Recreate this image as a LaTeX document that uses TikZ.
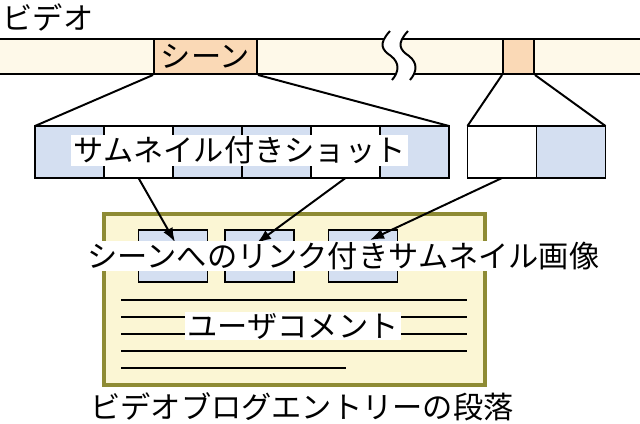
\documentclass[tikz,border=0pt]{standalone}
\usepackage{fontspec}
\setmainfont{Noto Sans CJK JP}
\usetikzlibrary{arrows.meta}

\definecolor{barcream}{RGB}{254,249,233}
\definecolor{scenepeach}{RGB}{250,217,182}
\definecolor{shotblue}{RGB}{212,223,241}
\definecolor{blogyellow}{RGB}{251,246,212}
\definecolor{blogolive}{RGB}{142,139,52}

\begin{document}
\begin{tikzpicture}[x=0.025cm, y=-0.025cm, line width=1.4pt,
    font=\fontsize{21.5pt}{24pt}\selectfont,
    cell/.style={draw, rectangle, inner sep=0pt, outer sep=0pt,
        minimum width=1.725cm, minimum height=1.3cm},
    whitetag/.style={fill=white, inner xsep=2pt, inner ysep=1pt},
    linkarrow/.style={-{Latex[length=10pt,width=7.5pt]}}]
    \useasboundingbox (0,0) rectangle (640,423);

    % video bar
    \fill[barcream] (0,39) rectangle (640,74);
    \draw (0,39) -- (640,39);
    \draw (0,74) -- (640,74);
    \node (videolabel) at (48,17) {ビデオ};
    \node[draw, fill=scenepeach, inner sep=0pt, minimum width=2.575cm,
        minimum height=0.875cm] (scene) at (205.5,56.5) {シーン};
    \node[draw, fill=scenepeach, inner sep=0pt, minimum width=0.775cm,
        minimum height=0.875cm] (scenetwo) at (518.5,56.5) {};

    % break mark
    \fill[white] (390,31) .. controls (378,44) and (382,50) .. (391,56)
        .. controls (400,63) and (399,72) .. (392,80) -- (410,80)
        .. controls (417,72) and (418,63) .. (409,56)
        .. controls (400,50) and (396,44) .. (408,31) -- cycle;
    \draw (390,31) .. controls (378,44) and (382,50) .. (391,56)
        .. controls (400,63) and (399,72) .. (392,80);
    \draw (408,31) .. controls (396,44) and (400,50) .. (409,56)
        .. controls (418,63) and (417,72) .. (410,80);

    % shots of the scene
    \node[cell, fill=shotblue] (c1) at (69.5,152) {};
    \node[cell, fill=white] (c2) at (138.5,152) {};
    \node[cell, fill=shotblue] (c3) at (207.5,152) {};
    \node[cell, fill=shotblue] (c4) at (276.5,152) {};
    \node[cell, fill=white] (c5) at (345.5,152) {};
    \node[cell, fill=shotblue] (c6) at (414.5,152) {};
    \node[cell, fill=white] (d1) at (502,152) {};
    \node[cell, fill=shotblue] (d2) at (571,152) {};
    \draw (scene.south west) -- (c1.north west);
    \draw (scene.south east) -- (c6.north east);
    \draw (scenetwo.south west) -- (d1.north west);
    \draw (scenetwo.south east) -- (d2.north east);
    \node[whitetag] (shotlabel) at (239.5,150.5) {サムネイル付きショット};

    % blog entry
    \node[draw=blogolive, fill=blogyellow, line width=0.1cm, inner sep=0pt,
        minimum width=9.525cm, minimum height=4.275cm] (blog) at (294.5,299.5) {};
    \node[cell, fill=shotblue] (t1) at (173,256) {};
    \node[cell, fill=shotblue] (t2) at (259.5,256) {};
    \node[cell, fill=shotblue] (t3) at (363,256) {};
    \foreach \y in {300,317,334,351}
        \draw (121,\y) -- (467,\y);
    \draw (121,368) -- (346,368);
    \node[whitetag] (commentlabel) at (293,326) {ユーザコメント};

    % links
    \coordinate (a1) at (175,242);
    \coordinate (a2) at (257,243);
    \coordinate (a3) at (370,240);
    \draw[linkarrow] (c2.south) -- (a1);
    \draw[linkarrow] (c5.south) -- (a2);
    \draw[linkarrow] (d1.south) -- (a3);
    \node[whitetag] (linklabel) at (343.5,256) {シーンへのリンク付きサムネイル画像};
    \node (bloglabel) at (302,407) {ビデオブログエントリーの段落};
\end{tikzpicture}
\end{document}
